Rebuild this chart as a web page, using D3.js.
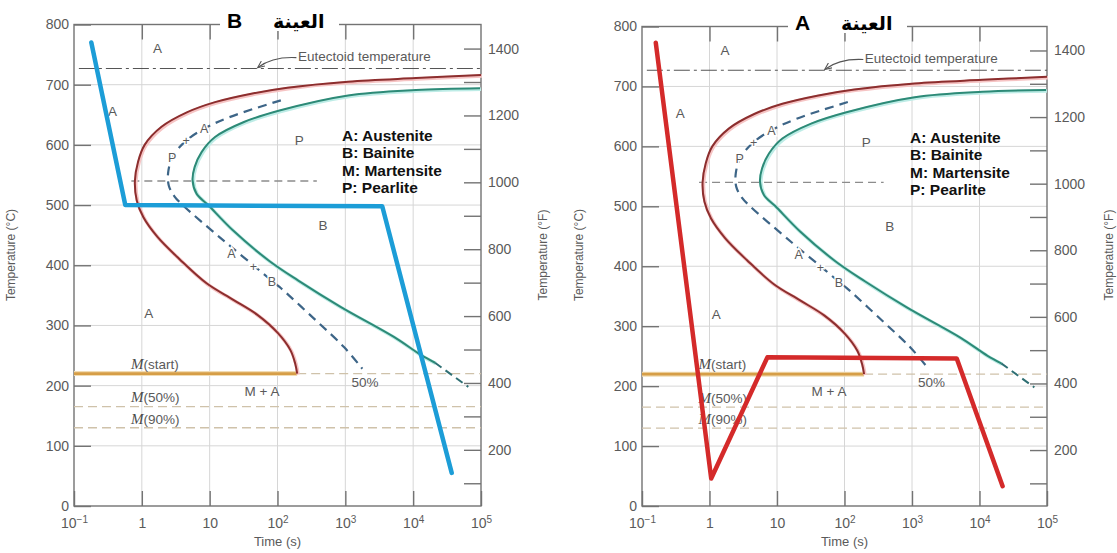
<!DOCTYPE html>
<html>
<head>
<meta charset="utf-8">
<script src="https://cdn.jsdelivr.net/npm/d3@7"></script>
<style>
  body { margin: 0; background: #fff; }
  svg { display: block; }
</style>
</head>
<body>
<div id="chart"></div>
<script>
const WIDTH = 1117, HEIGHT = 553;
const FONT = "'Liberation Sans', Arial, Helvetica, sans-serif";
const GRID = "#d6d6d6", FRAME = "#737373", TEXT = "#5a5a5a";

// axis values
const decades = [0.1, 1, 10, 100, 1000, 10000, 100000];
const tempTicksC = [0, 100, 200, 300, 400, 500, 600, 700, 800];
const tempTicksF = [100, 200, 300, 400, 500, 600, 700, 800, 900, 1000, 1100, 1200, 1300, 1400];
const tempLabelsF = [200, 400, 600, 800, 1000, 1200, 1400];

// reference temperatures (°C)
const eutectoidTemp = 727, noseDashTemp = 540, msTemp = 220, m50Temp = 165, m90Temp = 130;

// transformation curves, [time (s), temperature (°C)]
const startCurve = [
  [100000, 716], [11000, 711], [1100, 705], [140, 695], [41, 685], [12, 671], [4.6, 654],
  [1.95, 630], [1.1, 600], [0.88, 572], [0.79, 540], [0.84, 508], [1.05, 480], [1.7, 447],
  [3.6, 410], [9, 370], [22, 343], [50, 318], [100, 288], [155, 259], [183, 236], [195, 220]
];
const finishCurve = [
  [97000, 694], [11000, 691], [1100, 682], [107, 657], [32, 638], [12, 613], [7.6, 588],
  [6.0, 563], [5.6, 541], [6.4, 519], [9.5, 500], [22, 458], [74, 408], [200, 375],
  [850, 331], [5200, 281], [13000, 251], [21000, 238]
];
const finishCurveTail = [[21000, 238], [40000, 215], [65000, 198]];
const halfCurve = [
  [112, 674], [19.5, 646], [8.3, 627], [4.5, 607], [2.9, 582], [2.45, 555], [2.5, 532],
  [3.0, 515], [4.0, 500], [12, 453], [21, 430], [44, 400], [83, 374], [107, 364], [363, 309],
  [955, 264], [1780, 228]
];

// cooling paths of the two samples
const pathB = [[0.18, 770], [0.57, 500], [3500, 498], [37000, 55]];
const pathA = [[0.16, 773], [1.06, 46], [7.2, 248], [4600, 246], [22000, 33]];

// annotations
const regionLabels = [
  { t: 1.7, T: 760, text: "A" },
  { t: 0.37, T: 655, text: "A" },
  { t: 210, T: 607, text: "P" },
  { t: 470, T: 466, text: "B" },
  { t: 1.26, T: 320, text: "A" },
  { t: 59, T: 191, text: "M + A" },
  { t: 1950, T: 206, text: "50%" }
];
const halfCurveLabels = [
  { t: 2.8, T: 579, text: "P" }, { t: 4.5, T: 607, text: "+" }, { t: 8.3, T: 627, text: "A" },
  { t: 21, T: 420, text: "A" }, { t: 44, T: 398, text: "+" }, { t: 83, T: 373, text: "B" }
];
const martensiteLabels = [
  { T: 236, text: "(start)" }, { T: 180, text: "(50%)" }, { T: 144, text: "(90%)" }
];
const martensiteLabelTime = 0.69;
const eutectoidLabel = { t: 200, T: 747, text: "Eutectoid temperature" };
const eutectoidArrow = [[190, 745], [85, 747], [52, 729]];
const legendItems = ["A: Austenite", "B: Bainite", "M: Martensite", "P: Pearlite"];

const panels = [
  { x0: 74, x1: 481, top: 24.5, bottom: 506, path: pathB, color: "#1c9dd7", letter: "B" },
  { x0: 642, x1: 1047, top: 26.5, bottom: 506, path: pathA, color: "#d42a2a", letter: "A" }
];

const svg = d3.select("#chart").append("svg")
  .attr("width", WIDTH)
  .attr("height", HEIGHT)
  .style("font-family", FONT);

svg.append("defs").append("marker")
  .attr("id", "arrow")
  .attr("viewBox", "0 0 10 10")
  .attr("refX", 8).attr("refY", 5)
  .attr("markerWidth", 7).attr("markerHeight", 7)
  .attr("orient", "auto")
  .append("path")
  .attr("d", "M0,1 L9,5 L0,9")
  .attr("fill", "none")
  .attr("stroke", "#555")
  .attr("stroke-width", 1.4);

function drawPanel(box) {
  const x = d3.scaleLog().domain([0.1, 1e5]).range([box.x0, box.x1]);
  const y = d3.scaleLinear().domain([0, 800]).range([box.bottom, box.top]);
  const yF = d3.scaleLinear().domain([32, 32 + 800 * 1.8]).range([box.bottom, box.top]);
  const g = svg.append("g");

  const line = d3.line().x(d => x(d[0])).y(d => y(d[1]));
  const smooth = d3.line().x(d => x(d[0])).y(d => y(d[1])).curve(d3.curveCatmullRom.alpha(0.5));

  // grid
  g.append("g").selectAll("line")
    .data(decades.slice(1, -1))
    .join("line")
    .attr("x1", d => x(d)).attr("x2", d => x(d))
    .attr("y1", box.top).attr("y2", box.bottom)
    .attr("stroke", GRID);
  g.append("g").selectAll("line")
    .data(tempTicksC.slice(1, -1))
    .join("line")
    .attr("x1", box.x0).attr("x2", box.x1)
    .attr("y1", d => y(d)).attr("y2", d => y(d))
    .attr("stroke", GRID);

  // axes
  const bottomAxis = g.append("g")
    .attr("transform", `translate(0,${box.bottom})`)
    .call(d3.axisBottom(x).tickValues(decades).tickSize(-15).tickSizeOuter(0).tickFormat(() => ""));
  const topAxis = g.append("g")
    .attr("transform", `translate(0,${box.top})`)
    .call(d3.axisTop(x).tickValues(decades.slice(1, -1)).tickSize(-15).tickSizeOuter(0).tickFormat(() => ""));
  const leftAxis = g.append("g")
    .attr("transform", `translate(${box.x0},0)`)
    .call(d3.axisLeft(y).tickValues(tempTicksC).tickSize(-17).tickSizeOuter(0).tickPadding(5));
  const rightAxis = g.append("g")
    .attr("transform", `translate(${box.x1},0)`)
    .call(d3.axisRight(yF).tickValues(tempTicksF).tickSize(-17).tickSizeOuter(0).tickPadding(7)
      .tickFormat(d => tempLabelsF.includes(d) ? d : ""));

  [bottomAxis, topAxis, leftAxis, rightAxis].forEach(a => {
    a.select(".domain").remove();
    a.attr("font-family", FONT).attr("font-size", 14);
    a.selectAll(".tick line").attr("stroke", FRAME).attr("stroke-width", 1.4);
    a.selectAll(".tick text").attr("fill", TEXT);
  });

  bottomAxis.selectAll(".tick text").each(function(d) {
    const e = Math.round(Math.log10(d));
    const t = d3.select(this).text(null).attr("y", 12).attr("dy", "0.71em");
    if (e === 0) t.text("1");
    else if (e === 1) t.text("10");
    else {
      t.append("tspan").text("10");
      t.append("tspan").attr("dy", "-0.5em").attr("font-size", 10).text(e < 0 ? "\u2212" + (-e) : e);
    }
  });

  // frame
  g.append("rect")
    .attr("x", box.x0).attr("y", box.top)
    .attr("width", box.x1 - box.x0).attr("height", box.bottom - box.top)
    .attr("fill", "none").attr("stroke", FRAME).attr("stroke-width", 1.4);

  // axis titles
  g.append("text")
    .attr("x", (box.x0 + box.x1) / 2).attr("y", box.bottom + 40)
    .attr("text-anchor", "middle").attr("font-size", 13).attr("fill", TEXT)
    .text("Time (s)");
  g.append("text")
    .attr("transform", `translate(${box.x0 - 59},255) rotate(-90)`)
    .attr("text-anchor", "middle").attr("font-size", 12).attr("fill", TEXT)
    .text("Temperature (°C)");
  g.append("text")
    .attr("transform", `translate(${box.x1 + 66},255) rotate(-90)`)
    .attr("text-anchor", "middle").attr("font-size", 12).attr("fill", TEXT)
    .text("Temperature (°F)");

  // reference lines
  g.append("path")
    .attr("d", line([[0.118, eutectoidTemp], [1e5, eutectoidTemp]]))
    .attr("stroke", "#555").attr("stroke-width", 1.1).attr("fill", "none")
    .attr("stroke-dasharray", "16,4,3,4");
  g.append("path")
    .attr("d", line([[0.7, noseDashTemp], [380, noseDashTemp]]))
    .attr("stroke", "#8c8c8c").attr("stroke-width", 1.3).attr("fill", "none")
    .attr("stroke-dasharray", "8,5");
  g.append("g").selectAll("path")
    .data([[[195, msTemp], [1e5, msTemp]], [[0.1, m50Temp], [1e5, m50Temp]], [[0.1, m90Temp], [1e5, m90Temp]]])
    .join("path")
    .attr("d", line)
    .attr("stroke", "#cfc2aa").attr("stroke-width", 1.3).attr("fill", "none")
    .attr("stroke-dasharray", "9,5");
  g.append("path")
    .attr("d", line([[0.1, msTemp], [195, msTemp]]))
    .attr("stroke", "#f1dcb4").attr("stroke-width", 5).attr("fill", "none");
  g.append("path")
    .attr("d", line([[0.1, msTemp], [195, msTemp]]))
    .attr("stroke", "#d69e47").attr("stroke-width", 2.6).attr("fill", "none");

  // transformation curves
  g.append("path").attr("d", smooth(startCurve))
    .attr("fill", "none").attr("stroke", "#f6c4c4").attr("stroke-width", 3.6)
    .attr("transform", "translate(0.9,0.9)");
  g.append("path").attr("d", smooth(startCurve))
    .attr("fill", "none").attr("stroke", "#8c2e2e").attr("stroke-width", 2);
  g.append("path").attr("d", smooth(finishCurve))
    .attr("fill", "none").attr("stroke", "#bdece6").attr("stroke-width", 3.6)
    .attr("transform", "translate(0.9,0.9)");
  g.append("path").attr("d", smooth(finishCurve))
    .attr("fill", "none").attr("stroke", "#2d8a77").attr("stroke-width", 2);
  g.append("path").attr("d", line(finishCurveTail))
    .attr("fill", "none").attr("stroke", "#2f6f73").attr("stroke-width", 2)
    .attr("stroke-dasharray", "8,5");
  g.append("path").attr("d", smooth(halfCurve))
    .attr("fill", "none").attr("stroke", "#3d6587").attr("stroke-width", 2.2)
    .attr("stroke-dasharray", "9,6");

  // labels along the 50% curve
  g.append("g").selectAll("text")
    .data(halfCurveLabels)
    .join("text")
    .attr("x", d => x(d.t)).attr("y", d => y(d.T)).attr("dy", "0.35em")
    .attr("text-anchor", "middle").attr("font-size", 12.5).attr("fill", TEXT)
    .attr("stroke", "#fff").attr("stroke-width", 3).attr("paint-order", "stroke")
    .text(d => d.text);

  // region labels
  g.append("g").selectAll("text")
    .data(regionLabels)
    .join("text")
    .attr("x", d => x(d.t)).attr("y", d => y(d.T)).attr("dy", "0.35em")
    .attr("text-anchor", "middle").attr("font-size", 13.5).attr("fill", TEXT)
    .text(d => d.text);

  // martensite labels
  const mLab = g.append("g").selectAll("text")
    .data(martensiteLabels)
    .join("text")
    .attr("x", x(martensiteLabelTime)).attr("y", d => y(d.T)).attr("dy", "0.35em")
    .attr("font-size", 13.5).attr("fill", TEXT);
  mLab.append("tspan")
    .attr("font-family", "'Liberation Serif', 'DejaVu Serif', serif")
    .attr("font-style", "italic").attr("font-size", 15).attr("fill", "#4a4a4a")
    .text("M");
  mLab.append("tspan").text(d => d.text);

  // eutectoid annotation
  g.append("text")
    .attr("x", x(eutectoidLabel.t)).attr("y", y(eutectoidLabel.T)).attr("dy", "0.35em")
    .attr("font-size", 13.5).attr("fill", TEXT)
    .text(eutectoidLabel.text);
  const [a0, a1, a2] = eutectoidArrow;
  g.append("path")
    .attr("d", `M${x(a0[0])},${y(a0[1])} Q${x(a1[0])},${y(a1[1])} ${x(a2[0])},${y(a2[1])}`)
    .attr("fill", "none").attr("stroke", "#555").attr("stroke-width", 1.1)
    .attr("marker-end", "url(#arrow)");

  // legend
  g.append("g").selectAll("text")
    .data(legendItems)
    .join("text")
    .attr("x", box.x0 + 268)
    .attr("y", (d, i) => box.top + 116 + i * 17.5)
    .attr("font-size", 15.5).attr("font-weight", "bold").attr("fill", "#111")
    .text(d => d);

  // title over the top border
  g.append("rect")
    .attr("x", box.x0 + 146).attr("y", box.top - 20)
    .attr("width", 119).attr("height", 26.5)
    .attr("fill", "#fff");
  g.append("text")
    .attr("x", box.x0 + 153).attr("y", box.top + 3)
    .attr("font-size", 21).attr("font-weight", "bold").attr("fill", "#000")
    .text(box.letter);
  g.append("text")
    .attr("x", box.x0 + 199).attr("y", box.top + 3)
    .attr("font-family", "'DejaVu Sans', sans-serif")
    .attr("font-size", 19).attr("font-weight", "bold").attr("fill", "#000")
    .text("العينة");

  // cooling path
  g.append("path")
    .attr("d", line(box.path))
    .attr("fill", "none").attr("stroke", box.color).attr("stroke-width", 4.5)
    .attr("stroke-linejoin", "round").attr("stroke-linecap", "round");
}

panels.forEach(drawPanel);
</script>
</body>
</html>
